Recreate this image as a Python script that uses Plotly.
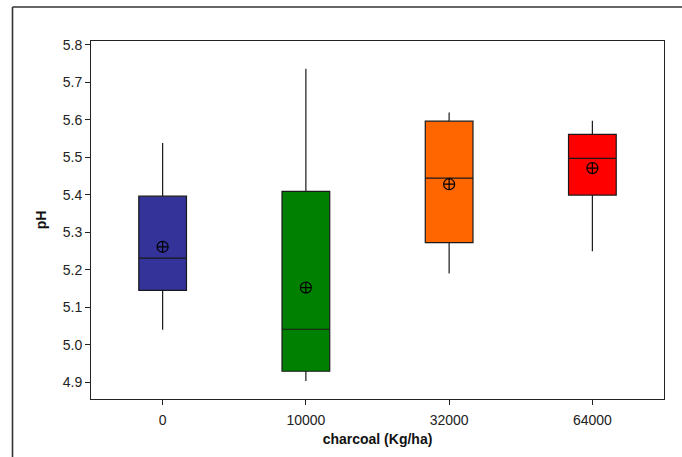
import plotly.graph_objects as go

categories = ["0", "10000", "32000", "64000"]
colors = ["#333399", "#008000", "#FF6600", "#FF0000"]
q1 = [5.145, 4.929, 5.272, 5.399]
median = [5.231, 5.041, 5.444, 5.497]
q3 = [5.396, 5.409, 5.596, 5.561]
lowerfence = [5.040, 4.903, 5.190, 5.249]
upperfence = [5.538, 5.736, 5.619, 5.597]
means = [5.261, 5.152, 5.428, 5.471]
ytick_vals = [4.9, 5.0, 5.1, 5.2, 5.3, 5.4, 5.5, 5.6, 5.7, 5.8]

fig = go.Figure()
for i, c in enumerate(categories):
    fig.add_trace(go.Box(
        x=[c], q1=[q1[i]], median=[median[i]], q3=[q3[i]],
        lowerfence=[lowerfence[i]], upperfence=[upperfence[i]],
        width=0.333, whiskerwidth=0,
        fillcolor=colors[i], line=dict(color="#1a1a1a", width=1.2),
        showlegend=False, boxpoints=False,
    ))

fig.add_trace(go.Scatter(
    x=categories, y=means, mode="markers",
    marker=dict(symbol="circle-cross-open", size=11, color="black",
                line=dict(width=1.2, color="black")),
    showlegend=False,
))

L, R, T, B = 91, 18, 41, 58
W, H = 682, 457
pw, ph = W - L - R, H - T - B
fx = (12.5 - L) / pw
fy = (H - B - 7) / ph

fig.update_layout(
    width=W, height=H,
    margin=dict(l=L, r=R, t=T, b=B, pad=0, autoexpand=False),
    paper_bgcolor="white", plot_bgcolor="white",
    boxmode="overlay",
    font=dict(family="Liberation Sans, Arial, sans-serif", size=14, color="#222"),
    xaxis=dict(
        type="category", categoryorder="array", categoryarray=categories,
        range=[-0.5, 3.5], automargin=False,
        showgrid=False, zeroline=False,
        showline=True, linecolor="#222", linewidth=1, mirror=True,
        ticks="outside", ticklen=5, tickcolor="#222", ticklabelstandoff=3,
        title=dict(text="<b>charcoal (Kg/ha)</b>", font=dict(size=14, color="#111"), standoff=7),
    ),
    yaxis=dict(
        range=[4.855, 5.81], automargin=False,
        tickvals=ytick_vals, tickformat=".1f",
        showgrid=False, zeroline=False,
        showline=True, linecolor="#222", linewidth=1, mirror=True,
        ticks="outside", ticklen=5, tickcolor="#222",
        title=dict(text="<b>pH</b>", font=dict(size=14, color="#111"), standoff=12),
    ),
    shapes=[
        dict(type="line", xref="paper", yref="paper", x0=fx, x1=1.2, y0=fy, y1=fy,
             line=dict(color="#333", width=1.6)),
        dict(type="line", xref="paper", yref="paper", x0=fx, x1=fx, y0=fy, y1=-0.3,
             line=dict(color="#333", width=1.6)),
    ],
)

fig.write_html("out.html", config={"displayModeBar": False},
               post_script="document.body.style.margin='0';")
